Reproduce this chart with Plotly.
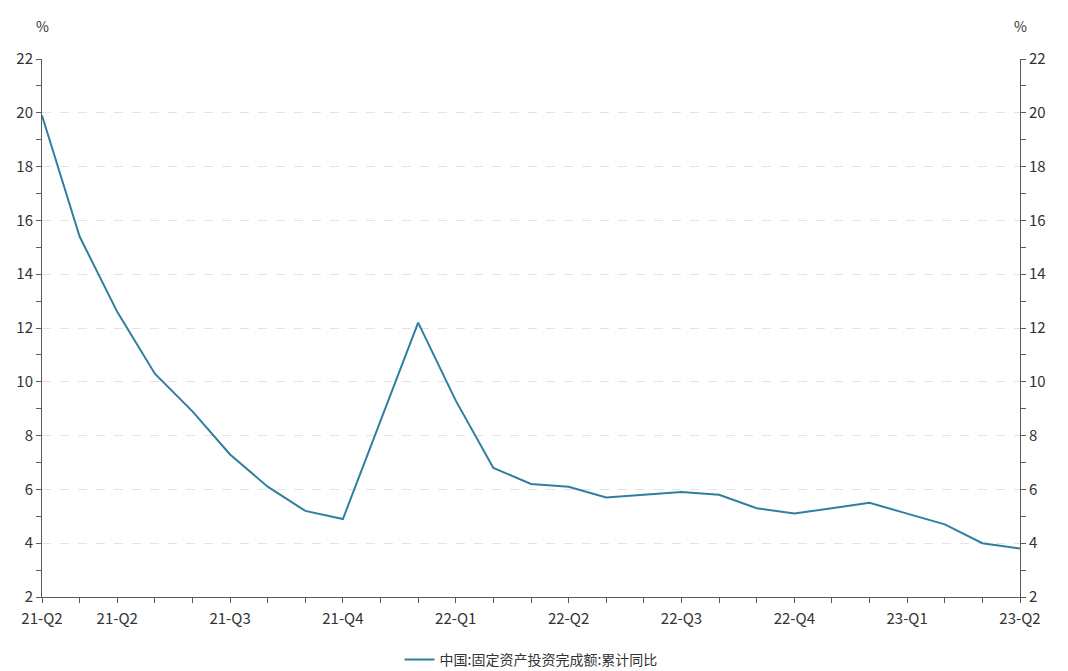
import plotly.graph_objects as go

months = ["2021-04", "2021-05", "2021-06", "2021-07", "2021-08", "2021-09", "2021-10", "2021-11", "2021-12",
          "2022-01", "2022-02", "2022-03", "2022-04", "2022-05", "2022-06", "2022-07", "2022-08", "2022-09",
          "2022-10", "2022-11", "2022-12", "2023-01", "2023-02", "2023-03", "2023-04", "2023-05", "2023-06"]
fai_yoy = [19.9, 15.4, 12.6, 10.3, 8.9, 7.3, 6.1, 5.2, 4.9,
           None, 12.2, 9.3, 6.8, 6.2, 6.1, 5.7, 5.8, 5.9,
           5.8, 5.3, 5.1, None, 5.5, 5.1, 4.7, 4.0, 3.8]
tick_labels = ["21-Q2", "", "21-Q2", "", "", "21-Q3", "", "", "21-Q4",
               "", "", "22-Q1", "", "", "22-Q2", "", "", "22-Q3",
               "", "", "22-Q4", "", "", "23-Q1", "", "", "23-Q2"]
series_name = "中国:固定资产投资完成额:累计同比"

FONT = "Noto Sans CJK SC, Microsoft YaHei, sans-serif"
LINE_COLOR = "#2f7f9e"
AXIS_COLOR = "#5a5a5a"

fig = go.Figure()
fig.add_trace(go.Scatter(x=months, y=fai_yoy, mode="lines", name=series_name,
                         line=dict(color=LINE_COLOR, width=2), connectgaps=True))
fig.add_trace(go.Scatter(x=months, y=fai_yoy, mode="lines", yaxis="y2", showlegend=False,
                         line=dict(color="rgba(0,0,0,0)", width=0), connectgaps=True, hoverinfo="skip"))

yaxis_common = dict(range=[2, 22], dtick=2, tick0=2, showline=True, linecolor=AXIS_COLOR, linewidth=1,
                    ticks="outside", ticklen=5, tickcolor=AXIS_COLOR,
                    minor=dict(dtick=1, ticks="outside", ticklen=5, tickcolor=AXIS_COLOR, showgrid=False),
                    tickfont=dict(size=15, color="#333333", family=FONT), zeroline=False)

fig.update_layout(
    width=1068, height=671,
    paper_bgcolor="white", plot_bgcolor="white",
    margin=dict(l=34, r=56, t=51, b=82, autoexpand=False),
    font=dict(family=FONT, color="#333333"),
    xaxis=dict(type="category", range=[0, len(months) - 1], tickmode="array", tickvals=months,
               ticktext=tick_labels, ticks="outside", ticklen=5, tickcolor=AXIS_COLOR,
               showline=True, linecolor=AXIS_COLOR, linewidth=1, showgrid=False,
               ticklabelstandoff=3,
               tickfont=dict(size=15, color="#333333", family=FONT), tickangle=0),
    yaxis=dict(**yaxis_common, showgrid=True, gridcolor="#e3e3e3", griddash="dash", gridwidth=1),
    yaxis2=dict(**yaxis_common, overlaying="y", side="right", showgrid=False),
    legend=dict(orientation="h", x=0.5, xanchor="center", y=-63 / 538, yanchor="middle",
                font=dict(size=14, color="#333333", family=FONT)),
    showlegend=True,
    annotations=[
        dict(text="%", xref="paper", yref="paper", x=0, y=1.0 + 33 / 538, xanchor="center", yanchor="middle",
             showarrow=False, font=dict(size=14, color="#333333", family=FONT)),
        dict(text="%", xref="paper", yref="paper", x=1, y=1.0 + 33 / 538, xanchor="center", yanchor="middle",
             showarrow=False, font=dict(size=14, color="#333333", family=FONT)),
    ],
)

fig.write_html("out.html")
